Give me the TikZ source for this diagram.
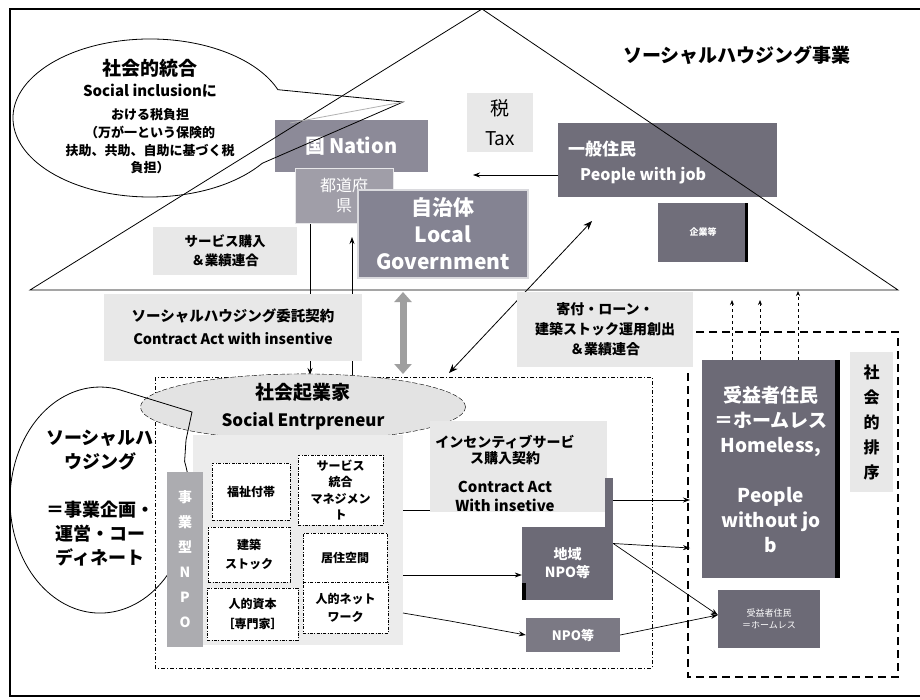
\documentclass[tikz,border=0pt]{standalone}
\usepackage{fontspec}
\setmainfont{Noto Sans CJK JP}
\usetikzlibrary{arrows.meta,shapes.geometric,calc}
\newcommand\fsz[2]{\fontsize{#1pt}{#2pt}\selectfont}
\definecolor{nationc}{RGB}{140,138,152}
\definecolor{prefc}{RGB}{160,158,168}
\definecolor{localc}{RGB}{132,131,146}
\definecolor{genc}{RGB}{112,110,122}
\definecolor{darkc}{RGB}{108,106,118}
\definecolor{barc}{RGB}{172,172,176}
\definecolor{lblc}{RGB}{232,232,232}
\begin{document}
\begin{tikzpicture}[x=1pt,y=-1pt,
  gbox/.style={fill=#1, text=white, align=center, inner sep=0pt},
  lbl/.style={fill=lblc, align=center, inner sep=0pt},
  wbox/.style={draw, dash pattern=on 3pt off 1.5pt on 0.8pt off 1.5pt, fill=white, align=center, inner sep=0pt, line width=0.6pt, font=\bfseries\fsz{12}{16}},
  arr/.style={-{Stealth[length=7pt,width=5pt]}, line width=0.7pt},
  txt/.style={inner sep=0pt, align=center}
]
\useasboundingbox (0,0) rectangle (920,699);
\fill[white] (0,0) rectangle (920,699);
\draw[line width=1.2pt] (920,9) -- (10,9) -- (10,696) -- (920,696);

% vertical connectors under the contract label
\coordinate (v1t) at (310,223); \coordinate (v1b) at (310,375);
\coordinate (v2t) at (352,237); \coordinate (v2b) at (352,377);
\draw[arr] (v1t) -- (v1b);
\draw[arr] (v2b) -- (v2t);

% government boxes
\node[gbox=nationc, minimum width=153pt, minimum height=52pt, font=\bfseries\fsz{20}{24}] (nation) at (351.5,146) {国\,Nation};
\node[gbox=prefc, draw=white!75!prefc, line width=1pt, minimum width=98pt, minimum height=55pt, font=\fsz{16}{20}] (pref) at (344,195.5) {都道府\\県};
\node[gbox=localc, draw=white!70!localc, line width=1.5pt, minimum width=170pt, minimum height=88pt, font=\bfseries\fsz{21}{27}] (local) at (443,234) {自治体\\Local\\Government};

% tax
\node[lbl, minimum width=66pt, minimum height=59pt, font=\fsz{19}{30}] (tax) at (500,122.5) {税\\Tax};

% people with job
\node[gbox=genc, minimum width=219pt, minimum height=74pt] (gen) at (667.5,160) {};
\node[txt, anchor=west, text=white, font=\bfseries\fsz{17}{20}] (gent1) at (568,149) {一般住民};
\node[txt, anchor=west, text=white, font=\bfseries\fsz{16}{20}] (gent2) at (580,176) {People with job};
\node[gbox=genc, minimum width=90pt, minimum height=59pt, font=\bfseries\fsz{9}{11}] (corp) at (703,232.5) {企業等};
\fill[black] ([xshift=-3.5pt]corp.north east) rectangle (corp.south east);

\coordinate (taxend) at (473,175);
\draw[arr] ([yshift=-15pt]gen.west) -- (taxend);

\coordinate (da1) at (592,221); \coordinate (da2) at (449,373);
\draw[{Stealth[length=9pt,width=7pt]}-{Stealth[length=9pt,width=7pt]}, line width=0.8pt] (da1) -- (da2);

% roof
\draw[line width=0.8pt] (30,290) -- (482,9) -- (898,290) -- cycle;
\node[txt, font=\bfseries\fsz{19}{22}] (title) at (737,55) {ソーシャルハウジング事業};

% top-left bubble
\draw[line width=0.8pt] (262.2,163.3) arc[start angle=35, end angle=339, x radius=137, y radius=79] -- (403,102) -- cycle;
\draw[gray!60, line width=0.8pt] (290,123) -- (403,102);
\node[txt, font=\bfseries\fsz{19}{22}] (bt1) at (150,68) {社会的統合};
\node[txt, font=\bfseries\fsz{15}{18}] (bt2) at (150,91) {Social inclusionに};
\node[txt, font=\bfseries\fsz{13}{17.7}] (bt3) at (150,141.5) {おける税負担\\（万が一という保険的\\扶助、共助、自助に基づく税\\負担）};

% thick double arrow
\coordinate (ta1) at (403,292); \coordinate (ta2) at (403,374);
\draw[{Triangle[width=17pt,length=10pt]}-{Triangle[width=17pt,length=10pt]}, line width=7pt, draw=gray!75] (ta1) -- (ta2);

% labels
\node[lbl, minimum width=144pt, minimum height=48pt, font=\bfseries\fsz{13.5}{19}] (svc) at (225,251) {サービス購入\\＆業績連合};
\node[lbl, minimum width=258pt, minimum height=67pt, font=\bfseries\fsz{14.5}{23}] (ctr) at (233,327) {ソーシャルハウジング委託契約\\Contract Act with insentive};
\node[lbl, minimum width=176pt, minimum height=75pt, font=\bfseries\fsz{14}{20}] (don) at (605,329.5) {寄付・ローン・\\建築ストック運用創出\\＆業績連合};

% homeless
\node[gbox=darkc, minimum width=138pt, minimum height=218pt, font=\bfseries\fsz{19}{25}] (hl) at (771,469) {受益者住民\\＝ホームレス\\Homeless,\\[25pt]People\\without jo\\b};
\fill[black] ([xshift=-5pt]hl.north east) rectangle (hl.south east);
\node[lbl, minimum width=43pt, minimum height=140pt, font=\bfseries\fsz{16}{25}] (excl) at (871.5,422) {社\\会\\的\\排\\序};
\node[gbox=darkc, minimum width=102pt, minimum height=58pt, font=\fsz{9}{12}] (sb) at (769,619) {受益者住民\\＝ホームレス};

\coordinate (u1) at (732,300); \coordinate (u2) at (760,300); \coordinate (u3) at (798,291);
\foreach \u in {u1,u2,u3}
  \draw[dashed, line width=0.9pt, -{Stealth[length=5pt,width=4pt]}] (hl.north -| \u) -- (\u);
\draw[line width=1.1pt, dash pattern=on 8pt off 5pt] (688,373) -- (688,677) -- (898,677) -- (898,332) -- (693,332);

% social entrepreneur box
\draw[line width=0.6pt, dash pattern=on 4pt off 2pt on 1pt off 2pt] (155,377) rectangle (652,668);
\node[ellipse, draw, dash pattern=on 5pt off 2pt, fill=gray!22, minimum width=325pt, minimum height=66pt, inner sep=0pt, align=center, font=\bfseries\fsz{19}{27}] (se) at (303,407) {社会起業家\\{\fsz{17}{27}Social Entrpreneur}};

% left bubble
\draw[line width=0.8pt] (184.6,461.4) arc[start angle=-20, end angle=282, x radius=90, y radius=113] -- (192,412) -- (186,440) -- cycle;
\node[txt, font=\bfseries\fsz{18}{24}] (lbt) at (100,498) {ソーシャルハ\\ウジング\\[24pt]＝事業企画・\\運営・コー\\ディネート};

% inner panel and resources
\node[fill=gray!15, minimum width=210pt, minimum height=210pt, inner sep=0pt] (panel) at (298,540) {};
\node[gbox=barc, minimum width=36pt, minimum height=175pt, font=\bfseries\fsz{14}{25}] (nbar) at (185,559.5) {事\\業\\型\\N\\P\\O};
\node[wbox, minimum width=78pt, minimum height=57pt] (b1) at (251,491.5) {福祉付帯};
\node[wbox, minimum width=85pt, minimum height=70pt, font=\bfseries\fsz{12}{16.5}] (b2) at (340.5,490) {サービス\\統合\\マネジメン\\ト};
\node[wbox, minimum width=82pt, minimum height=55pt, font=\bfseries\fsz{12}{19}] (b3) at (249,554.5) {建築\\ストック};
\node[wbox, minimum width=84pt, minimum height=49pt] (b4) at (345,557.5) {居住空間};
\node[wbox, minimum width=91pt, minimum height=52pt, font=\bfseries\fsz{12}{20}] (b5) at (252.5,614) {人的資本\\［専門家］};
\node[wbox, minimum width=85pt, minimum height=51pt, font=\bfseries\fsz{12}{18}] (b6) at (345.5,607.5) {人的ネット\\ワーク};

% incentive label
\node[lbl, minimum width=177pt, minimum height=91pt] (inc) at (518.5,466.5) {};
\node[txt, font=\bfseries\fsz{14}{16}] (inct1) at (505,450) {インセンティブサービ\\ス購入契約};
\node[txt, font=\bfseries\fsz{15}{19}] (inct2) at (505,496.5) {Contract Act\\With insetive};

% NPOs
\node[fill=darkc, minimum width=8pt, minimum height=49pt, inner sep=0pt] (strip) at (609,502.5) {};
\node[gbox=darkc, minimum width=91pt, minimum height=73pt, font=\bfseries\fsz{14}{18}] (npo1) at (567.5,563.5) {地域\\NPO等};
\fill[black] (npo1.south west) rectangle ([xshift=4pt,yshift=17pt]npo1.south west);
\node[gbox=darkc!90!white, minimum width=94pt, minimum height=34pt, font=\bfseries\fsz{13}{16}] (npo2) at (573,635) {NPO等};

% connectors in the lower part
\coordinate (a0s) at (403,510);
\draw[line width=0.7pt] (a0s) -- (a0s -| inc.west);
\coordinate (a1s) at (403,575);
\draw[arr] (a1s) -- (a1s -| npo1.west);
\coordinate (a2s) at (403,613); \coordinate (a2m) at (450,621);
\draw[arr] (a2s) -- (a2m) -- (npo2.west);
\coordinate (d1e) at (690,500);
\draw[arr] (d1e -| strip.east) -- (d1e);
\coordinate (e1e) at (690,548);
\draw[arr] ([yshift=20pt]npo1.east) -- (e1e);
\draw[arr] ([yshift=20pt]npo1.east) -- ([yshift=4pt]sb.west);
\draw[arr] (npo2.east) -- ([yshift=4pt]sb.west);
\end{tikzpicture}
\end{document}
